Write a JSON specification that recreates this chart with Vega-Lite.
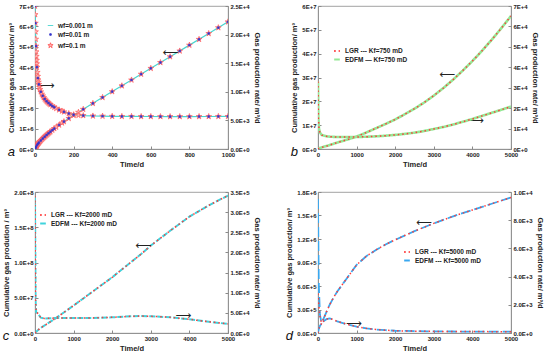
{
  "$schema": "https://vega.github.io/schema/vega-lite/v6.json",
  "padding": {"left": 2, "top": 2, "right": 2, "bottom": 2},
  "config": {
    "font": "Liberation Sans",
    "view": {"stroke": "#8a8a8a", "strokeWidth": 0.8},
    "axis": {"grid": false, "domainColor": "#8a8a8a", "domainWidth": 0.8, "tickColor": "#8a8a8a", "tickSize": -3, "labelPadding": 5, "labelFontSize": 6, "labelFontWeight": "bold", "labelColor": "#222", "labelOverlap": false, "labelFlush": false, "labelBound": false, "titleFontSize": 7.5, "titleFontWeight": "bold", "titleColor": "#222", "titlePadding": 3},
    "axisX": {"format": "d"},
    "legend": {"labelFontSize": 6.5, "labelFontWeight": "bold", "labelColor": "#222", "rowPadding": 0.5, "padding": 0, "symbolSize": 32, "symbolStrokeWidth": 2, "labelOffset": 4},
    "title": {"fontSize": 13, "fontStyle": "italic", "fontWeight": "normal", "color": "#111", "orient": "bottom", "anchor": "start", "frame": "bounds", "dy": -26, "offset": 0}
  },
  "datasets": {
    "aL": [
      {"s":"wf=0.001 m","t":0,"c":0,"r":25000},{"s":"wf=0.001 m","t":1,"c":22000,"r":23500},{"s":"wf=0.001 m","t":2,"c":45000,"r":22000},{"s":"wf=0.001 m","t":3,"c":66000,"r":20500},{"s":"wf=0.001 m","t":5,"c":105000,"r":18000},{"s":"wf=0.001 m","t":7,"c":139000,"r":16200},{"s":"wf=0.001 m","t":10,"c":185000,"r":14300},{"s":"wf=0.001 m","t":15,"c":252000,"r":12400},{"s":"wf=0.001 m","t":20,"c":311000,"r":11300},{"s":"wf=0.001 m","t":30,"c":417000,"r":10000},{"s":"wf=0.001 m","t":40,"c":513000,"r":9300},{"s":"wf=0.001 m","t":50,"c":603000,"r":8750},{"s":"wf=0.001 m","t":70,"c":769000,"r":8050},{"s":"wf=0.001 m","t":100,"c":1000000,"r":7300},{"s":"wf=0.001 m","t":150,"c":1342000,"r":6500},{"s":"wf=0.001 m","t":200,"c":1650000,"r":6000},{"s":"wf=0.001 m","t":250,"c":1945000,"r":5850},{"s":"wf=0.001 m","t":300,"c":2235000,"r":5780},{"s":"wf=0.001 m","t":400,"c":2810000,"r":5720},{"s":"wf=0.001 m","t":500,"c":3380000,"r":5700},{"s":"wf=0.001 m","t":600,"c":3950000,"r":5680},{"s":"wf=0.001 m","t":700,"c":4520000,"r":5670},{"s":"wf=0.001 m","t":800,"c":5085000,"r":5670},{"s":"wf=0.001 m","t":900,"c":5655000,"r":5680},{"s":"wf=0.001 m","t":1000,"c":6225000,"r":5700}
    ],
    "aP": [
      {"s":"wf=0.1 m","t":0,"c":0,"r":25000},{"s":"wf=0.1 m","t":1,"c":22000,"r":23500},{"s":"wf=0.1 m","t":2,"c":45000,"r":22000},{"s":"wf=0.1 m","t":3,"c":66000,"r":20500},{"s":"wf=0.1 m","t":4,"c":86000,"r":19200},{"s":"wf=0.1 m","t":5,"c":105000,"r":18000},{"s":"wf=0.1 m","t":6,"c":122000,"r":17000},{"s":"wf=0.1 m","t":7,"c":139000,"r":16200},{"s":"wf=0.1 m","t":8,"c":155000,"r":15500},{"s":"wf=0.1 m","t":9,"c":170000,"r":14900},{"s":"wf=0.1 m","t":10,"c":185000,"r":14300},{"s":"wf=0.1 m","t":12,"c":213000,"r":13400},{"s":"wf=0.1 m","t":14,"c":239000,"r":12700},{"s":"wf=0.1 m","t":16,"c":264000,"r":12100},{"s":"wf=0.1 m","t":18,"c":288000,"r":11700},{"s":"wf=0.1 m","t":20,"c":311000,"r":11300},{"s":"wf=0.1 m","t":23,"c":344000,"r":10800},{"s":"wf=0.1 m","t":26,"c":376000,"r":10400},{"s":"wf=0.1 m","t":30,"c":417000,"r":10000},{"s":"wf=0.1 m","t":35,"c":466000,"r":9600},{"s":"wf=0.1 m","t":40,"c":513000,"r":9300},{"s":"wf=0.1 m","t":45,"c":559000,"r":9000},{"s":"wf=0.1 m","t":50,"c":603000,"r":8750},{"s":"wf=0.1 m","t":55,"c":646000,"r":8550},{"s":"wf=0.1 m","t":60,"c":688000,"r":8350},{"s":"wf=0.1 m","t":65,"c":729000,"r":8200},{"s":"wf=0.1 m","t":70,"c":769000,"r":8050},{"s":"wf=0.1 m","t":75,"c":809000,"r":7900},{"s":"wf=0.1 m","t":80,"c":848000,"r":7750},{"s":"wf=0.1 m","t":90,"c":925000,"r":7500},{"s":"wf=0.1 m","t":100,"c":1000000,"r":7300},{"s":"wf=0.1 m","t":110,"c":1072000,"r":7100},{"s":"wf=0.1 m","t":125,"c":1176000,"r":6850},{"s":"wf=0.1 m","t":140,"c":1277000,"r":6650},{"s":"wf=0.1 m","t":150,"c":1342000,"r":6500},{"s":"wf=0.1 m","t":175,"c":1500000,"r":6200},{"s":"wf=0.1 m","t":200,"c":1650000,"r":6000},{"s":"wf=0.1 m","t":225,"c":1800000,"r":5900},{"s":"wf=0.1 m","t":250,"c":1945000,"r":5850},{"s":"wf=0.1 m","t":300,"c":2235000,"r":5780},{"s":"wf=0.1 m","t":350,"c":2525000,"r":5750},{"s":"wf=0.1 m","t":400,"c":2810000,"r":5720},{"s":"wf=0.1 m","t":450,"c":3095000,"r":5700},{"s":"wf=0.1 m","t":500,"c":3380000,"r":5700},{"s":"wf=0.1 m","t":550,"c":3665000,"r":5680},{"s":"wf=0.1 m","t":600,"c":3950000,"r":5680},{"s":"wf=0.1 m","t":650,"c":4235000,"r":5670},{"s":"wf=0.1 m","t":700,"c":4520000,"r":5670},{"s":"wf=0.1 m","t":750,"c":4800000,"r":5670},{"s":"wf=0.1 m","t":800,"c":5085000,"r":5670},{"s":"wf=0.1 m","t":850,"c":5370000,"r":5680},{"s":"wf=0.1 m","t":900,"c":5655000,"r":5680},{"s":"wf=0.1 m","t":950,"c":5940000,"r":5700},{"s":"wf=0.1 m","t":1000,"c":6225000,"r":5700},
      {"s":"wf=0.01 m","t":0,"c":0,"r":25000},{"s":"wf=0.01 m","t":2,"c":45000,"r":22000},{"s":"wf=0.01 m","t":5,"c":105000,"r":18000},{"s":"wf=0.01 m","t":10,"c":185000,"r":14300},{"s":"wf=0.01 m","t":15,"c":252000,"r":12400},{"s":"wf=0.01 m","t":20,"c":311000,"r":11300},{"s":"wf=0.01 m","t":30,"c":417000,"r":10000},{"s":"wf=0.01 m","t":40,"c":513000,"r":9300},{"s":"wf=0.01 m","t":50,"c":603000,"r":8750},{"s":"wf=0.01 m","t":60,"c":688000,"r":8350},{"s":"wf=0.01 m","t":70,"c":769000,"r":8050},{"s":"wf=0.01 m","t":80,"c":848000,"r":7750},{"s":"wf=0.01 m","t":90,"c":925000,"r":7500},{"s":"wf=0.01 m","t":100,"c":1000000,"r":7300},{"s":"wf=0.01 m","t":125,"c":1176000,"r":6850},{"s":"wf=0.01 m","t":150,"c":1342000,"r":6500},{"s":"wf=0.01 m","t":175,"c":1500000,"r":6200},{"s":"wf=0.01 m","t":200,"c":1650000,"r":6000},{"s":"wf=0.01 m","t":250,"c":1945000,"r":5850},{"s":"wf=0.01 m","t":300,"c":2235000,"r":5780},{"s":"wf=0.01 m","t":350,"c":2525000,"r":5750},{"s":"wf=0.01 m","t":400,"c":2810000,"r":5720},{"s":"wf=0.01 m","t":450,"c":3095000,"r":5700},{"s":"wf=0.01 m","t":500,"c":3380000,"r":5700},{"s":"wf=0.01 m","t":550,"c":3665000,"r":5680},{"s":"wf=0.01 m","t":600,"c":3950000,"r":5680},{"s":"wf=0.01 m","t":650,"c":4235000,"r":5670},{"s":"wf=0.01 m","t":700,"c":4520000,"r":5670},{"s":"wf=0.01 m","t":750,"c":4800000,"r":5670},{"s":"wf=0.01 m","t":800,"c":5085000,"r":5670},{"s":"wf=0.01 m","t":850,"c":5370000,"r":5680},{"s":"wf=0.01 m","t":900,"c":5655000,"r":5680},{"s":"wf=0.01 m","t":950,"c":5940000,"r":5700},{"s":"wf=0.01 m","t":1000,"c":6225000,"r":5700}
    ],
    "aA": [{"t":703,"c":4700000,"g":"⟵"},{"t":62,"c":3100000,"g":"⟶"}],
    "bE": [
      {"s":"EDFM — Kf=750 mD","t":0,"c":0,"r":33000},{"s":"EDFM — Kf=750 mD","t":10,"c":150000,"r":15000},{"s":"EDFM — Kf=750 mD","t":25,"c":300000,"r":10000},{"s":"EDFM — Kf=750 mD","t":50,"c":450000,"r":8000},{"s":"EDFM — Kf=750 mD","t":100,"c":700000,"r":6800},{"s":"EDFM — Kf=750 mD","t":250,"c":1400000,"r":6100},{"s":"EDFM — Kf=750 mD","t":500,"c":2700000,"r":5850},{"s":"EDFM — Kf=750 mD","t":750,"c":3900000,"r":5850},{"s":"EDFM — Kf=750 mD","t":1000,"c":5200000,"r":5900},{"s":"EDFM — Kf=750 mD","t":1250,"c":6900000,"r":6000},{"s":"EDFM — Kf=750 mD","t":1500,"c":8700000,"r":6200},{"s":"EDFM — Kf=750 mD","t":1750,"c":10500000,"r":6500},{"s":"EDFM — Kf=750 mD","t":2000,"c":12400000,"r":6900},{"s":"EDFM — Kf=750 mD","t":2250,"c":14600000,"r":7400},{"s":"EDFM — Kf=750 mD","t":2500,"c":16900000,"r":8000},{"s":"EDFM — Kf=750 mD","t":2750,"c":19500000,"r":8800},{"s":"EDFM — Kf=750 mD","t":3000,"c":22400000,"r":9800},{"s":"EDFM — Kf=750 mD","t":3250,"c":25600000,"r":10800},{"s":"EDFM — Kf=750 mD","t":3500,"c":29100000,"r":12000},{"s":"EDFM — Kf=750 mD","t":3750,"c":32900000,"r":13300},{"s":"EDFM — Kf=750 mD","t":4000,"c":36900000,"r":14700},{"s":"EDFM — Kf=750 mD","t":4250,"c":41200000,"r":16200},{"s":"EDFM — Kf=750 mD","t":4500,"c":45800000,"r":17700},{"s":"EDFM — Kf=750 mD","t":4750,"c":50700000,"r":19200},{"s":"EDFM — Kf=750 mD","t":5000,"c":55800000,"r":20800}
    ],
    "bL": [
      {"s":"LGR --- Kf=750 mD","t":0,"c":0,"r":33000},{"s":"LGR --- Kf=750 mD","t":10,"c":150000,"r":15000},{"s":"LGR --- Kf=750 mD","t":25,"c":300000,"r":10000},{"s":"LGR --- Kf=750 mD","t":50,"c":450000,"r":8000},{"s":"LGR --- Kf=750 mD","t":100,"c":700000,"r":6800},{"s":"LGR --- Kf=750 mD","t":250,"c":1400000,"r":6100},{"s":"LGR --- Kf=750 mD","t":500,"c":2700000,"r":5850},{"s":"LGR --- Kf=750 mD","t":750,"c":3900000,"r":5850},{"s":"LGR --- Kf=750 mD","t":1000,"c":5200000,"r":5900},{"s":"LGR --- Kf=750 mD","t":1250,"c":6900000,"r":6000},{"s":"LGR --- Kf=750 mD","t":1500,"c":8700000,"r":6200},{"s":"LGR --- Kf=750 mD","t":1750,"c":10500000,"r":6500},{"s":"LGR --- Kf=750 mD","t":2000,"c":12400000,"r":6900},{"s":"LGR --- Kf=750 mD","t":2250,"c":14600000,"r":7400},{"s":"LGR --- Kf=750 mD","t":2500,"c":16900000,"r":8000},{"s":"LGR --- Kf=750 mD","t":2750,"c":19500000,"r":8800},{"s":"LGR --- Kf=750 mD","t":3000,"c":22400000,"r":9800},{"s":"LGR --- Kf=750 mD","t":3250,"c":25600000,"r":10800},{"s":"LGR --- Kf=750 mD","t":3500,"c":29100000,"r":12000},{"s":"LGR --- Kf=750 mD","t":3750,"c":32900000,"r":13300},{"s":"LGR --- Kf=750 mD","t":4000,"c":36900000,"r":14700},{"s":"LGR --- Kf=750 mD","t":4250,"c":41200000,"r":16200},{"s":"LGR --- Kf=750 mD","t":4500,"c":45800000,"r":17700},{"s":"LGR --- Kf=750 mD","t":4750,"c":50700000,"r":19200},{"s":"LGR --- Kf=750 mD","t":5000,"c":55800000,"r":20800}
    ],
    "bA": [{"t":3350,"c":31000000,"g":"⟵"},{"t":4100,"c":11900000,"g":"⟶"}],
    "cE": [
      {"s":"EDFM --- Kf=2000 mD","t":0,"c":0,"r":340000},{"s":"EDFM --- Kf=2000 mD","t":15,"c":1000000,"r":80000},{"s":"EDFM --- Kf=2000 mD","t":30,"c":1800000,"r":52000},{"s":"EDFM --- Kf=2000 mD","t":60,"c":3300000,"r":50000},{"s":"EDFM --- Kf=2000 mD","t":100,"c":5200000,"r":45000},{"s":"EDFM --- Kf=2000 mD","t":150,"c":7200000,"r":38000},{"s":"EDFM --- Kf=2000 mD","t":250,"c":10800000,"r":36000},{"s":"EDFM --- Kf=2000 mD","t":500,"c":19500000,"r":37000},{"s":"EDFM --- Kf=2000 mD","t":1000,"c":39000000,"r":37000},{"s":"EDFM --- Kf=2000 mD","t":1500,"c":59000000,"r":37500},{"s":"EDFM --- Kf=2000 mD","t":2000,"c":79000000,"r":39000},{"s":"EDFM --- Kf=2000 mD","t":2500,"c":101000000,"r":41500},{"s":"EDFM --- Kf=2000 mD","t":2750,"c":112000000,"r":42000},{"s":"EDFM --- Kf=2000 mD","t":3000,"c":124000000,"r":41500},{"s":"EDFM --- Kf=2000 mD","t":3500,"c":145000000,"r":39000},{"s":"EDFM --- Kf=2000 mD","t":4000,"c":165000000,"r":34000},{"s":"EDFM --- Kf=2000 mD","t":4500,"c":181000000,"r":28000},{"s":"EDFM --- Kf=2000 mD","t":5000,"c":195000000,"r":22500}
    ],
    "cL": [
      {"s":"LGR --- Kf=2000 mD","t":0,"c":0,"r":340000},{"s":"LGR --- Kf=2000 mD","t":15,"c":1000000,"r":80000},{"s":"LGR --- Kf=2000 mD","t":30,"c":1800000,"r":52000},{"s":"LGR --- Kf=2000 mD","t":60,"c":3300000,"r":50000},{"s":"LGR --- Kf=2000 mD","t":100,"c":5200000,"r":45000},{"s":"LGR --- Kf=2000 mD","t":150,"c":7200000,"r":38000},{"s":"LGR --- Kf=2000 mD","t":250,"c":10800000,"r":36000},{"s":"LGR --- Kf=2000 mD","t":500,"c":19500000,"r":37000},{"s":"LGR --- Kf=2000 mD","t":1000,"c":39000000,"r":37000},{"s":"LGR --- Kf=2000 mD","t":1500,"c":59000000,"r":37500},{"s":"LGR --- Kf=2000 mD","t":2000,"c":79000000,"r":39000},{"s":"LGR --- Kf=2000 mD","t":2500,"c":101000000,"r":41500},{"s":"LGR --- Kf=2000 mD","t":2750,"c":112000000,"r":42000},{"s":"LGR --- Kf=2000 mD","t":3000,"c":124000000,"r":41500},{"s":"LGR --- Kf=2000 mD","t":3500,"c":145000000,"r":39000},{"s":"LGR --- Kf=2000 mD","t":4000,"c":165000000,"r":34000},{"s":"LGR --- Kf=2000 mD","t":4500,"c":181000000,"r":28000},{"s":"LGR --- Kf=2000 mD","t":5000,"c":195000000,"r":22500}
    ],
    "cA": [{"t":2810,"c":124000000,"g":"⟵"},{"t":3850,"c":24000000,"g":"⟶"}],
    "dE": [
      {"s":"EDFM --- Kf=5000 mD","t":0,"c":0,"r":9500},{"s":"EDFM --- Kf=5000 mD","t":20,"c":50000,"r":3500},{"s":"EDFM --- Kf=5000 mD","t":50,"c":90000,"r":1300},{"s":"EDFM --- Kf=5000 mD","t":90,"c":120000,"r":720},{"s":"EDFM --- Kf=5000 mD","t":150,"c":190000,"r":850},{"s":"EDFM --- Kf=5000 mD","t":220,"c":270000,"r":980},{"s":"EDFM --- Kf=5000 mD","t":300,"c":360000,"r":1030},{"s":"EDFM --- Kf=5000 mD","t":400,"c":450000,"r":950},{"s":"EDFM --- Kf=5000 mD","t":500,"c":530000,"r":820},{"s":"EDFM --- Kf=5000 mD","t":750,"c":700000,"r":620},{"s":"EDFM --- Kf=5000 mD","t":1000,"c":870000,"r":450},{"s":"EDFM --- Kf=5000 mD","t":1250,"c":980000,"r":330},{"s":"EDFM --- Kf=5000 mD","t":1500,"c":1060000,"r":250},{"s":"EDFM --- Kf=5000 mD","t":1750,"c":1130000,"r":200},{"s":"EDFM --- Kf=5000 mD","t":2000,"c":1190000,"r":160},{"s":"EDFM --- Kf=5000 mD","t":2500,"c":1300000,"r":130},{"s":"EDFM --- Kf=5000 mD","t":3000,"c":1400000,"r":115},{"s":"EDFM --- Kf=5000 mD","t":3500,"c":1490000,"r":105},{"s":"EDFM --- Kf=5000 mD","t":4000,"c":1570000,"r":100},{"s":"EDFM --- Kf=5000 mD","t":4500,"c":1650000,"r":97},{"s":"EDFM --- Kf=5000 mD","t":5000,"c":1730000,"r":95}
    ],
    "dL": [
      {"s":"LGR --- Kf=5000 mD","t":0,"c":0,"r":2800},{"s":"LGR --- Kf=5000 mD","t":20,"c":50000,"r":2000},{"s":"LGR --- Kf=5000 mD","t":50,"c":90000,"r":1200},{"s":"LGR --- Kf=5000 mD","t":90,"c":120000,"r":720},{"s":"LGR --- Kf=5000 mD","t":150,"c":190000,"r":850},{"s":"LGR --- Kf=5000 mD","t":220,"c":270000,"r":980},{"s":"LGR --- Kf=5000 mD","t":300,"c":360000,"r":1030},{"s":"LGR --- Kf=5000 mD","t":400,"c":450000,"r":950},{"s":"LGR --- Kf=5000 mD","t":500,"c":530000,"r":820},{"s":"LGR --- Kf=5000 mD","t":750,"c":700000,"r":620},{"s":"LGR --- Kf=5000 mD","t":1000,"c":870000,"r":450},{"s":"LGR --- Kf=5000 mD","t":1250,"c":980000,"r":330},{"s":"LGR --- Kf=5000 mD","t":1500,"c":1060000,"r":250},{"s":"LGR --- Kf=5000 mD","t":1750,"c":1130000,"r":200},{"s":"LGR --- Kf=5000 mD","t":2000,"c":1190000,"r":160},{"s":"LGR --- Kf=5000 mD","t":2500,"c":1300000,"r":130},{"s":"LGR --- Kf=5000 mD","t":3000,"c":1400000,"r":115},{"s":"LGR --- Kf=5000 mD","t":3500,"c":1490000,"r":105},{"s":"LGR --- Kf=5000 mD","t":4000,"c":1570000,"r":100},{"s":"LGR --- Kf=5000 mD","t":4500,"c":1650000,"r":97},{"s":"LGR --- Kf=5000 mD","t":5000,"c":1730000,"r":95}
    ],
    "dA": [{"t":2750,"c":1410000,"g":"⟵"},{"t":936,"c":120000,"g":"⟶"}]
  },
  "columns": 2,
  "spacing": {"row": 20, "column": 24},
  "resolve": {"scale": {"stroke": "independent", "fill": "independent", "shape": "independent", "strokeDash": "independent"}},
  "concat": [
    {
      "width": 193, "height": 143,
      "title": {"text": "a"},
      "resolve": {"scale": {"y": "independent"}},
      "layer": [
        {"layer": [
          {"data": {"name": "aL"}, "mark": {"type": "line", "strokeWidth": 1.2, "clip": true},
           "encoding": {
             "x": {"field": "t", "type": "quantitative", "scale": {"domain": [0, 1000], "nice": false}, "axis": {"values": [0, 200, 400, 600, 800, 1000], "tickCount": 20, "labelOverlap": false, "title": "Time/d"}},
             "y": {"field": "c", "type": "quantitative", "scale": {"domain": [0, 7000000], "nice": false}, "axis": {"values": [0, 1000000, 2000000, 3000000, 4000000, 5000000, 6000000, 7000000], "tickCount": 20, "labelOverlap": false, "labelExpr": "replace(format(datum.value, '.0e'), 'e', 'E')", "title": "Cumulative gas production/ m³"}},
             "stroke": {"field": "s", "type": "nominal", "scale": {"domain": ["wf=0.001 m", "wf=0.01 m", "wf=0.1 m"], "range": ["#48d6d0", "#3535cc", "#ff5a5a"]}, "legend": {"orient": "none", "legendX": 12, "legendY": 16, "title": null, "direction": "vertical", "symbolSize": 30, "symbolStrokeWidth": 0.9, "rowPadding": 2}}
           }},
          {"data": {"name": "aP"}, "mark": {"type": "point", "strokeWidth": 0.7, "size": 36, "opacity": 1, "clip": true},
           "encoding": {
             "x": {"field": "t", "type": "quantitative"},
             "y": {"field": "c", "type": "quantitative"},
             "stroke": {"field": "s", "type": "nominal", "legend": {"orient": "none", "legendX": 12, "legendY": 16, "title": null, "direction": "vertical", "symbolSize": 30, "symbolStrokeWidth": 0.9, "rowPadding": 2}},
             "fill": {"field": "s", "type": "nominal", "scale": {"domain": ["wf=0.001 m", "wf=0.01 m", "wf=0.1 m"], "range": ["transparent", "#3535cc", "#ffb8b8"]}, "legend": {"orient": "none", "legendX": 12, "legendY": 16, "title": null, "direction": "vertical", "symbolSize": 30, "symbolStrokeWidth": 0.9, "rowPadding": 2}},
             "shape": {"field": "s", "type": "nominal", "scale": {"domain": ["wf=0.001 m", "wf=0.01 m", "wf=0.1 m"], "range": ["stroke", "M-0.28,-0.28H0.28V0.28H-0.28Z", "M0,-1L0.2245,-0.309L0.951,-0.309L0.363,0.118L0.588,0.809L0,0.382L-0.588,0.809L-0.363,0.118L-0.951,-0.309L-0.2245,-0.309Z"]}, "legend": {"orient": "none", "legendX": 12, "legendY": 16, "title": null, "direction": "vertical", "symbolSize": 30, "symbolStrokeWidth": 0.9, "rowPadding": 2}}
           }},
          {"data": {"name": "aA"}, "mark": {"type": "text", "font": "DejaVu Sans", "fontSize": 11, "color": "#222"},
           "encoding": {"x": {"field": "t", "type": "quantitative"}, "y": {"field": "c", "type": "quantitative"}, "text": {"field": "g"}}}
        ]},
        {"layer": [
          {"data": {"name": "aL"}, "mark": {"type": "line", "strokeWidth": 1.2, "clip": true},
           "encoding": {
             "x": {"field": "t", "type": "quantitative"},
             "y": {"field": "r", "type": "quantitative", "scale": {"domain": [0, 25000], "nice": false}, "axis": {"orient": "right", "values": [0, 5000, 10000, 15000, 20000, 25000], "tickCount": 20, "labelOverlap": false, "labelExpr": "replace(format(datum.value, '.1e'), 'e', 'E')", "title": "Gas production rate/ m³/d"}},
             "stroke": {"field": "s", "type": "nominal"}
           }},
          {"data": {"name": "aP"}, "mark": {"type": "point", "strokeWidth": 0.7, "size": 36, "opacity": 1, "clip": true},
           "encoding": {
             "x": {"field": "t", "type": "quantitative"},
             "y": {"field": "r", "type": "quantitative"},
             "stroke": {"field": "s", "type": "nominal"},
             "fill": {"field": "s", "type": "nominal"},
             "shape": {"field": "s", "type": "nominal"}
           }}
        ]}
      ]
    },
    {
      "width": 193, "height": 143,
      "title": {"text": "b"},
      "resolve": {"scale": {"y": "independent"}},
      "layer": [
        {"layer": [
          {"data": {"name": "bE"}, "mark": {"type": "line", "strokeWidth": 2.6, "clip": true},
           "encoding": {
             "x": {"field": "t", "type": "quantitative", "scale": {"domain": [0, 5000], "nice": false}, "axis": {"values": [0, 1000, 2000, 3000, 4000, 5000], "tickCount": 20, "labelOverlap": false, "title": "Time/d"}},
             "y": {"field": "c", "type": "quantitative", "scale": {"domain": [0, 60000000], "nice": false}, "axis": {"values": [0, 10000000, 20000000, 30000000, 40000000, 50000000, 60000000], "tickCount": 20, "labelOverlap": false, "labelExpr": "replace(format(datum.value, '.0e'), 'e', 'E')", "title": "Cumulative gas production/ m³"}},
             "stroke": {"field": "s", "type": "nominal", "scale": {"domain": ["LGR --- Kf=750 mD", "EDFM — Kf=750 mD"], "range": ["#ff3a3a", "#95e895"]}, "legend": {"orient": "none", "legendX": 15, "legendY": 41, "title": null, "direction": "vertical"}},
             "strokeDash": {"field": "s", "type": "nominal", "scale": {"domain": ["LGR --- Kf=750 mD", "EDFM — Kf=750 mD"], "range": [[1.5, 3], [1, 0]]}, "legend": {"orient": "none", "legendX": 15, "legendY": 41, "title": null, "direction": "vertical"}}
           }},
          {"data": {"name": "bL"}, "mark": {"type": "line", "strokeWidth": 1.5, "clip": true},
           "encoding": {"x": {"field": "t", "type": "quantitative"}, "y": {"field": "c", "type": "quantitative"}, "stroke": {"field": "s", "type": "nominal"}, "strokeDash": {"field": "s", "type": "nominal"}}},
          {"data": {"name": "bA"}, "mark": {"type": "text", "font": "DejaVu Sans", "fontSize": 11, "color": "#222"},
           "encoding": {"x": {"field": "t", "type": "quantitative"}, "y": {"field": "c", "type": "quantitative"}, "text": {"field": "g"}}}
        ]},
        {"layer": [
          {"data": {"name": "bE"}, "mark": {"type": "line", "strokeWidth": 2.6, "clip": true},
           "encoding": {
             "x": {"field": "t", "type": "quantitative"},
             "y": {"field": "r", "type": "quantitative", "scale": {"domain": [0, 70000], "nice": false}, "axis": {"orient": "right", "values": [0, 10000, 20000, 30000, 40000, 50000, 60000, 70000], "tickCount": 20, "labelOverlap": false, "labelExpr": "replace(format(datum.value, '.0e'), 'e', 'E')", "title": "Gas production rate/ m³/d"}},
             "stroke": {"field": "s", "type": "nominal"}, "strokeDash": {"field": "s", "type": "nominal"}
           }},
          {"data": {"name": "bL"}, "mark": {"type": "line", "strokeWidth": 1.5, "clip": true},
           "encoding": {"x": {"field": "t", "type": "quantitative"}, "y": {"field": "r", "type": "quantitative"}, "stroke": {"field": "s", "type": "nominal"}, "strokeDash": {"field": "s", "type": "nominal"}}}
        ]}
      ]
    },
    {
      "width": 193, "height": 141,
      "title": {"text": "c"},
      "resolve": {"scale": {"y": "independent"}},
      "layer": [
        {"layer": [
          {"data": {"name": "cE"}, "mark": {"type": "line", "strokeWidth": 2, "clip": true},
           "encoding": {
             "x": {"field": "t", "type": "quantitative", "scale": {"domain": [0, 5000], "nice": false}, "axis": {"values": [0, 1000, 2000, 3000, 4000, 5000], "tickCount": 20, "labelOverlap": false, "title": "Time/d"}},
             "y": {"field": "c", "type": "quantitative", "scale": {"domain": [0, 200000000], "nice": false}, "axis": {"values": [0, 50000000, 100000000, 150000000, 200000000], "tickCount": 20, "labelOverlap": false, "labelExpr": "replace(format(datum.value, '.1e'), 'e', 'E')", "title": "Cumulative gas prodution / m³"}},
             "stroke": {"field": "s", "type": "nominal", "scale": {"domain": ["LGR --- Kf=2000 mD", "EDFM --- Kf=2000 mD"], "range": ["#ff3a3a", "#3fd3dc"]}, "legend": {"orient": "none", "legendX": 4, "legendY": 19, "title": null, "direction": "vertical"}},
             "strokeDash": {"field": "s", "type": "nominal", "scale": {"domain": ["LGR --- Kf=2000 mD", "EDFM --- Kf=2000 mD"], "range": [[1.5, 3], [6, 2]]}, "legend": {"orient": "none", "legendX": 4, "legendY": 19, "title": null, "direction": "vertical"}}
           }},
          {"data": {"name": "cL"}, "mark": {"type": "line", "strokeWidth": 1.5, "clip": true},
           "encoding": {"x": {"field": "t", "type": "quantitative"}, "y": {"field": "c", "type": "quantitative"}, "stroke": {"field": "s", "type": "nominal"}, "strokeDash": {"field": "s", "type": "nominal"}}},
          {"data": {"name": "cA"}, "mark": {"type": "text", "font": "DejaVu Sans", "fontSize": 11, "color": "#222"},
           "encoding": {"x": {"field": "t", "type": "quantitative"}, "y": {"field": "c", "type": "quantitative"}, "text": {"field": "g"}}}
        ]},
        {"layer": [
          {"data": {"name": "cE"}, "mark": {"type": "line", "strokeWidth": 2, "clip": true},
           "encoding": {
             "x": {"field": "t", "type": "quantitative"},
             "y": {"field": "r", "type": "quantitative", "scale": {"domain": [0, 350000], "nice": false}, "axis": {"orient": "right", "values": [0, 50000, 100000, 150000, 200000, 250000, 300000, 350000], "tickCount": 20, "labelOverlap": false, "labelExpr": "replace(format(datum.value, '.1e'), 'e', 'E')", "title": "Gas production rate/ m³/d"}},
             "stroke": {"field": "s", "type": "nominal"}, "strokeDash": {"field": "s", "type": "nominal"}
           }},
          {"data": {"name": "cL"}, "mark": {"type": "line", "strokeWidth": 1.5, "clip": true},
           "encoding": {"x": {"field": "t", "type": "quantitative"}, "y": {"field": "r", "type": "quantitative"}, "stroke": {"field": "s", "type": "nominal"}, "strokeDash": {"field": "s", "type": "nominal"}}}
        ]}
      ]
    },
    {
      "width": 193, "height": 141,
      "title": {"text": "d"},
      "resolve": {"scale": {"y": "independent"}},
      "layer": [
        {"layer": [
          {"data": {"name": "dE"}, "mark": {"type": "line", "strokeWidth": 1.8, "clip": true},
           "encoding": {
             "x": {"field": "t", "type": "quantitative", "scale": {"domain": [0, 5000], "nice": false}, "axis": {"values": [0, 1000, 2000, 3000, 4000, 5000], "tickCount": 20, "labelOverlap": false, "title": "Time/d"}},
             "y": {"field": "c", "type": "quantitative", "scale": {"domain": [0, 1800000], "nice": false}, "axis": {"values": [0, 300000, 600000, 900000, 1200000, 1500000, 1800000], "tickCount": 20, "labelOverlap": false, "labelExpr": "replace(format(datum.value, '.1e'), 'e', 'E')", "title": "Cumulative gas production/ m³"}},
             "stroke": {"field": "s", "type": "nominal", "scale": {"domain": ["LGR --- Kf=5000 mD", "EDFM --- Kf=5000 mD"], "range": ["#ff3a3a", "#3aa8f0"]}, "legend": {"orient": "none", "legendX": 85, "legendY": 56, "title": null, "direction": "vertical"}},
             "strokeDash": {"field": "s", "type": "nominal", "scale": {"domain": ["LGR --- Kf=5000 mD", "EDFM --- Kf=5000 mD"], "range": [[1.5, 3], [10, 4]]}, "legend": {"orient": "none", "legendX": 85, "legendY": 56, "title": null, "direction": "vertical"}}
           }},
          {"data": {"name": "dL"}, "mark": {"type": "line", "strokeWidth": 1.5, "clip": true},
           "encoding": {"x": {"field": "t", "type": "quantitative"}, "y": {"field": "c", "type": "quantitative"}, "stroke": {"field": "s", "type": "nominal"}, "strokeDash": {"field": "s", "type": "nominal"}}},
          {"data": {"name": "dA"}, "mark": {"type": "text", "font": "DejaVu Sans", "fontSize": 11, "color": "#222"},
           "encoding": {"x": {"field": "t", "type": "quantitative"}, "y": {"field": "c", "type": "quantitative"}, "text": {"field": "g"}}}
        ]},
        {"layer": [
          {"data": {"name": "dE"}, "mark": {"type": "line", "strokeWidth": 1.8, "clip": true},
           "encoding": {
             "x": {"field": "t", "type": "quantitative"},
             "y": {"field": "r", "type": "quantitative", "scale": {"domain": [0, 10000], "nice": false}, "axis": {"orient": "right", "values": [0, 2000, 4000, 6000, 8000, 10000], "tickCount": 20, "labelOverlap": false, "labelExpr": "replace(format(datum.value, '.1e'), 'e', 'E')", "title": "Gas production rate/ m³/d"}},
             "stroke": {"field": "s", "type": "nominal"}, "strokeDash": {"field": "s", "type": "nominal"}
           }},
          {"data": {"name": "dL"}, "mark": {"type": "line", "strokeWidth": 1.5, "clip": true},
           "encoding": {"x": {"field": "t", "type": "quantitative"}, "y": {"field": "r", "type": "quantitative"}, "stroke": {"field": "s", "type": "nominal"}, "strokeDash": {"field": "s", "type": "nominal"}}}
        ]}
      ]
    }
  ]
}
